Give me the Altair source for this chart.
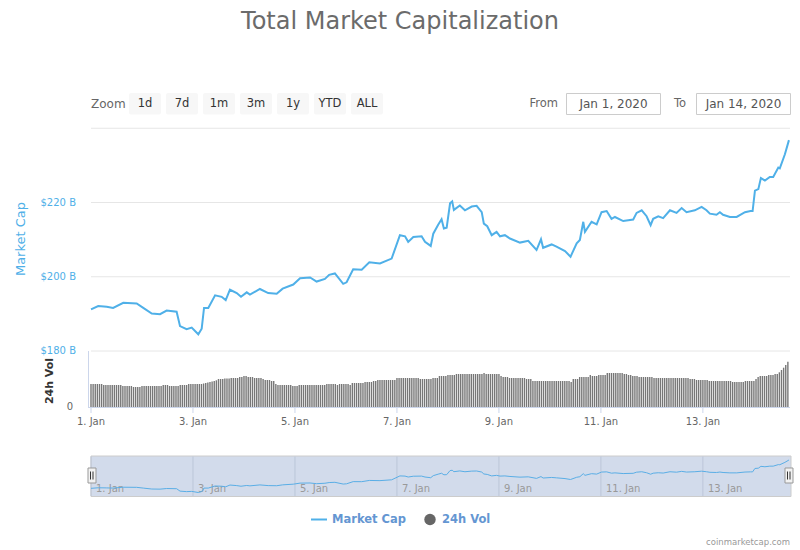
import altair as alt
import pandas as pd

FONT = "DejaVu Sans"
START = pd.Timestamp("2020-01-01 00:00")

# ---- data ----
cap_hours = [0, 3.4, 7.4, 10.4, 15.2, 21.5, 24.6, 28.6, 32.5, 35.6, 40.3, 41.9, 45.0, 47.4,
             50.5, 52.1, 53.2, 55.2, 58.4, 61.5, 63.4, 65.4, 68.6, 70.6, 73.3, 74.8, 79.5,
             83.4, 87.4, 90.2, 95.2, 98.4, 103.1, 106.2, 110.1, 112.1, 114.8, 118.7, 120.3,
             123.4, 127.4, 131.0, 136.0, 141.5, 145.4, 147.8, 149.3, 151.7, 155.6, 157.2,
             159.9, 161.1, 163.4, 165.0, 166.1, 167.4, 169.0, 170.0, 170.8, 173.6, 176.0,
             179.2, 181.5, 183.9, 184.9, 186.5, 188.6, 190.9, 192.5, 194.8, 197.2, 201.9,
             205.8, 209.7, 211.8, 212.8, 216.8, 219.1, 223.1, 225.7, 228.6, 230.1, 231.7,
             232.5, 235.6, 238.0, 240.3, 242.7, 245.0, 246.6, 250.5, 255.2, 256.8, 259.2,
             261.5, 263.4, 264.6, 267.0, 269.3, 272.5, 275.6, 278.0, 280.3, 284.2, 287.4,
             289.7, 291.3, 294.4, 296.0, 297.5, 300.7, 303.9, 307.8, 310.4, 311.4, 312.5,
             314.1, 315.3, 317.2, 319.5, 321.1, 323.5, 324.2, 326.6, 328.5]
cap_values = [191.2, 192.1, 191.9, 191.6, 193.0, 192.8, 191.6, 190.1, 189.9, 190.9, 190.6,
              186.7, 185.9, 186.3, 184.5, 186.0, 191.6, 191.6, 195.0, 194.6, 193.7, 196.5,
              195.6, 194.6, 195.8, 195.2, 196.7, 195.6, 195.4, 196.8, 197.9, 199.6, 199.8,
              198.7, 199.4, 200.5, 200.9, 198.1, 198.5, 202.0, 201.9, 203.9, 203.6, 204.9,
              211.2, 210.9, 209.4, 210.7, 210.9, 209.4, 208.3, 211.6, 214.0, 215.5, 213.0,
              213.2, 219.8, 220.3, 218.0, 219.2, 217.9, 218.9, 219.1, 217.4, 214.3, 213.6,
              211.2, 212.1, 210.9, 211.2, 210.3, 209.2, 209.7, 207.2, 210.1, 207.8, 208.7,
              208.1, 206.9, 205.4, 209.0, 209.9, 214.8, 212.1, 214.8, 214.1, 217.4, 217.7,
              215.6, 216.1, 215.0, 215.4, 217.2, 217.9, 216.3, 213.9, 215.6, 216.3, 215.8,
              217.9, 217.2, 218.5, 217.4, 217.9, 218.8, 217.9, 217.0, 216.7, 217.4, 216.7,
              216.1, 216.1, 217.4, 217.7, 217.7, 223.2, 223.6, 226.6, 225.9, 226.9, 226.9,
              229.4, 229.2, 233.0, 236.8]

# hourly 24h volume (arbitrary units, one list per day)
vol_by_day = [
    [23, 23, 23, 23, 23, 23, 22, 22, 22, 22, 22, 22, 22, 22, 22, 21, 21, 21, 21, 21, 20, 20, 20, 20],
    [21, 21, 21, 21, 21, 21, 21, 21, 21, 21, 22, 22, 22, 21, 21, 21, 21, 21, 22, 22, 22, 22, 23, 23],
    [23, 23, 23, 23, 23, 23.5, 24, 24.5, 25, 25.5, 26, 26.7, 28, 28, 28, 28.5, 28.5, 28.5, 29, 29, 29, 29, 30, 30],
    [31, 31, 30, 30, 30, 29, 29, 29, 29, 28, 27, 27, 27, 26, 26, 23, 22, 22, 22, 22, 22, 22, 22, 21],
    [21, 21, 22, 22, 22, 22, 22, 22, 22, 22, 22, 22, 22, 22, 22, 23, 23, 23, 23, 23, 22, 23, 23, 23],
    [23, 23, 22, 24, 24, 24, 24, 24, 24, 25, 25, 25, 25, 26, 26, 27, 27, 27, 27, 27, 27, 27, 27, 27],
    [29, 29, 29, 29, 29, 29, 29, 29, 29, 29, 29, 28, 28, 28, 28, 28, 28, 29, 29, 29, 31, 31, 31, 31],
    [32, 32, 32, 32, 33, 33, 33, 33, 33, 33, 33, 33, 33, 33, 33, 33, 33, 34, 33, 33, 33, 33, 33, 33],
    [33, 31, 30, 30, 30, 29, 29, 29, 29, 29, 29, 29, 29, 28, 28, 28, 26, 26, 26, 26, 26, 26, 26, 26],
    [26, 26, 26, 26, 26, 26, 26, 26, 26, 26, 25, 28, 28, 28, 30, 30, 30, 30, 30, 32, 31, 31, 31, 32],
    [32, 32, 32, 34, 34, 34, 34, 34, 34, 34, 34, 33, 33, 32, 32, 31, 31, 31, 30, 30, 30, 30, 30, 30],
    [30, 29, 29, 29, 29, 29, 29, 29, 29, 29, 29, 29, 29, 29, 29, 29, 29, 29, 28, 28, 28, 27, 27, 27],
    [27, 27, 27, 26, 26, 26, 26, 26, 26, 26, 26, 26, 26, 26, 25, 25, 25, 25, 25, 25, 26, 26, 26, 26],
    [26, 28, 30, 31, 31, 31, 31, 32, 32, 32, 33, 33, 34.7, 37, 39.3, 42, 45.3],
]

tick_days = [1, 3, 5, 7, 9, 11, 13]
tick_labels = ["1. Jan", "3. Jan", "5. Jan", "7. Jan", "9. Jan", "11. Jan", "13. Jan"]
y_ticks = [180, 200, 220, 240]
y_tick_labels = ["$180 B", "$200 B", "$220 B", ""]
buttons = ["1d", "7d", "1m", "3m", "1y", "YTD", "ALL"]
title_text = "Total Market Capitalization"
date_from = "Jan 1, 2020"
date_to = "Jan 14, 2020"

# ---- tables ----
cap_df = pd.DataFrame({"time": START + pd.to_timedelta(cap_hours, unit="h"), "cap": cap_values})
vol_list = [v for day in vol_by_day for v in day]
vol_df = pd.DataFrame({"time": START + pd.to_timedelta(list(range(len(vol_list))), unit="h"),
                       "vol": vol_list})
tick_df = pd.DataFrame({"time": [pd.Timestamp(2020, 1, d) for d in tick_days], "label": tick_labels})
grid_df = pd.DataFrame({"v": y_ticks, "label": y_tick_labels})
ONE = pd.DataFrame({"k": [0]})

# ---- scales ----
XS = alt.Scale(domain=[alt.DateTime(year=2020, month=1, date=1, hours=0),
                       alt.DateTime(year=2020, month=1, date=14, hours=17)],
               range=[91, 790], padding=0, nice=False)
YC = alt.Scale(domain=[180, 240], range=[351, 128.25], zero=False, nice=False)
YV = alt.Scale(domain=[0, 56], range=[407, 351], zero=False, nice=False)
YN = alt.Scale(domain=[184.5, 236.8], range=[492.5, 460], zero=False, nice=False)

LINE_BLUE = "#4fb0e8"
AXIS_COL = "#ccd6eb"


def X(field="time:T"):
    return alt.X(field, scale=XS, axis=None)


def vtext(txt, x, y, size, color, align="left", weight="normal", angle=None):
    kw = dict(text=txt, align=align, baseline="middle", fontSize=size, color=color,
              font=FONT, fontWeight=weight)
    if angle is not None:
        kw["angle"] = angle
    return alt.Chart(ONE).mark_text(**kw).encode(x=alt.value(x), y=alt.value(y))


def vrect(x, y, x2, y2, fill, stroke=None, r=0, sw=1):
    kw = dict(fill=fill, cornerRadius=r)
    if stroke:
        kw["stroke"] = stroke
        kw["strokeWidth"] = sw
    return alt.Chart(ONE).mark_rect(**kw).encode(
        x=alt.value(x), x2=alt.value(x2), y=alt.value(y), y2=alt.value(y2))


def vline(x, y, x2=None, y2=None, color="#ccc", sw=1):
    enc = dict(x=alt.value(x), y=alt.value(y))
    if x2 is not None:
        enc["x2"] = alt.value(x2)
    if y2 is not None:
        enc["y2"] = alt.value(y2)
    return alt.Chart(ONE).mark_rule(color=color, strokeWidth=sw).encode(**enc)


layers = []

# title
layers.append(vtext(title_text, 400, 22, 24, "#6b6b6b", align="center"))

# range selector
layers.append(vtext("Zoom", 91, 104, 12, "#666666"))
for i, b in enumerate(buttons):
    x0 = 129 + 37 * i
    layers.append(vrect(x0, 93, x0 + 32, 114.5, "#f7f7f7", r=2))
    layers.append(vtext(b, x0 + 16, 104, 11.5, "#333333", align="center"))

# date inputs
layers.append(vtext("From", 558, 104, 11.5, "#666666", align="right"))
layers.append(vrect(566.5, 93.5, 660.5, 114.5, "#ffffff", stroke="#cccccc"))
layers.append(vtext(date_from, 613.5, 104, 12, "#555555", align="center"))
layers.append(vtext("To", 686, 104, 11.5, "#666666", align="right"))
layers.append(vrect(696.5, 93.5, 790.5, 114.5, "#ffffff", stroke="#cccccc"))
layers.append(vtext(date_to, 743.5, 104, 12, "#555555", align="center"))

# gridlines + y labels
layers.append(alt.Chart(grid_df).mark_rule(color="#e6e6e6", strokeWidth=1).encode(
    y=alt.Y("v:Q", scale=YC, axis=None), x=alt.value(91), x2=alt.value(790)))
layers.append(alt.Chart(grid_df).mark_text(
    align="right", baseline="middle", fontSize=10, color=LINE_BLUE, font=FONT).encode(
    y=alt.Y("v:Q", scale=YC, axis=None), x=alt.value(76), text="label:N"))
layers.append(vtext("Market Cap", 21, 239, 13, LINE_BLUE, align="center", angle=270))

# volume panel
layers.append(alt.Chart(vol_df).mark_bar(size=1.4, color="#777777").encode(
    x=X(), y=alt.Y("vol:Q", scale=YV, axis=None)))
layers.append(vline(88.5, 351, y2=407, color=AXIS_COL))
layers.append(vtext("24h Vol", 50, 381, 11, "#333333", align="center", weight="bold", angle=270))
layers.append(vtext("0", 73, 407, 10, "#666666", align="right"))

# market cap line
layers.append(alt.Chart(cap_df).mark_line(color=LINE_BLUE, strokeWidth=2).encode(
    x=X(), y=alt.Y("cap:Q", scale=YC, axis=None)))

# x axis
layers.append(vline(88, 407.5, x2=790, color=AXIS_COL))
layers.append(alt.Chart(tick_df).mark_rule(color=AXIS_COL).encode(
    x=X(), y=alt.value(407.5), y2=alt.value(413)))
layers.append(alt.Chart(tick_df).mark_text(
    align="center", baseline="middle", fontSize=10, color="#666666", font=FONT).encode(
    x=X(), y=alt.value(422), text="label:N"))

# navigator
layers.append(vrect(91, 456, 791, 496.5, "#d2dbeb", stroke="#cccccc"))
layers.append(alt.Chart(tick_df).mark_rule(color="#bcc6d8").encode(
    x=X(), y=alt.value(456.5), y2=alt.value(496)))
layers.append(alt.Chart(tick_df).mark_text(
    align="left", baseline="middle", fontSize=10, color="#999999", font=FONT, dx=5).encode(
    x=X(), y=alt.value(488.5), text="label:N"))
layers.append(alt.Chart(cap_df).mark_line(color="#5aaee6", strokeWidth=1).encode(
    x=X(), y=alt.Y("cap:Q", scale=YN, axis=None)))
for hx in (92, 789):
    layers.append(vrect(hx - 4, 468, hx + 4, 483, "#f2f2f2", stroke="#999999"))
    layers.append(vline(hx - 1.5, 471.5, y2=479.5, color="#333333"))
    layers.append(vline(hx + 1, 471.5, y2=479.5, color="#333333"))

# legend
layers.append(vline(311, 519.5, x2=327, color=LINE_BLUE, sw=2))
layers.append(vtext("Market Cap", 332, 519.5, 11.5, "#6496d2", weight="bold"))
layers.append(alt.Chart(ONE).mark_point(filled=True, size=130, color="#666666", opacity=1).encode(
    x=alt.value(430), y=alt.value(519.5)))
layers.append(vtext("24h Vol", 442, 519.5, 11.5, "#6496d2", weight="bold"))

# credits
layers.append(vtext("coinmarketcap.com", 790, 541.5, 8.5, "#999999", align="right"))

chart = alt.layer(*layers).resolve_scale(y="independent").properties(
    width=800, height=550, autosize=alt.AutoSizeParams(type="none"), padding=0,
    background="white"
).configure_view(stroke=None)

chart.save("out.html", embed_options={"renderer": "svg", "actions": False})
